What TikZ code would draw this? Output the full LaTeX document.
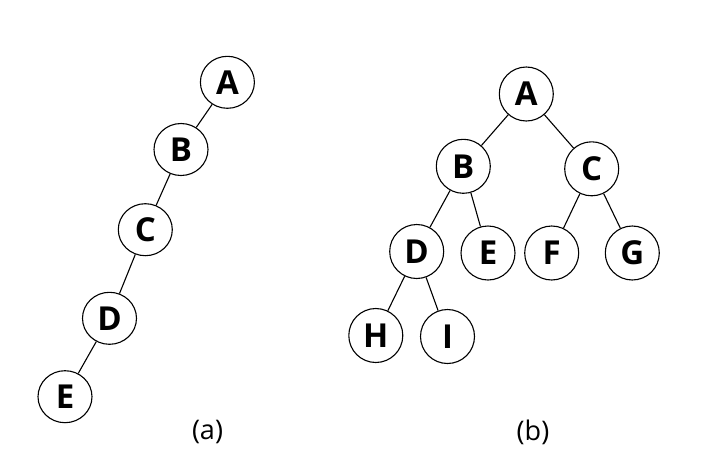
\documentclass[tikz,border=0pt]{standalone}
\usepackage{fontspec}
\setmainfont{Open Sans}
\usetikzlibrary{shapes.geometric}
\begin{document}
\begin{tikzpicture}[x=1pt,y=-1pt,
  tnode/.style={draw, line width=1.1pt, ellipse, minimum width=54pt, minimum height=52pt, inner sep=0pt, font=\fontsize{33}{33}\selectfont\bfseries},
  tedge/.style={line width=1.1pt},
  sublabel/.style={font=\fontsize{27}{27}\selectfont}]
\useasboundingbox (0,0) rectangle (702,464);
% (a)
\node[tnode] (a1) at (227.4,82.3) {A};
\node[tnode] (b1) at (181,149.5) {B};
\node[tnode] (c1) at (145.3,229.7) {C};
\node[tnode] (d1) at (109.5,318.3) {D};
\node[tnode] (e1) at (65,396.7) {E};
\draw[tedge] (a1) -- (b1);
\draw[tedge] (b1) -- (c1);
\draw[tedge] (c1) -- (d1);
\draw[tedge] (d1) -- (e1);
% (b)
\begin{scope}[tnode/.append style={minimum height=54pt}]
\node[tnode] (a2) at (526.3,94) {A};
\node[tnode] (b2) at (463.3,166.3) {B};
\node[tnode] (c2) at (591.7,168.8) {C};
\node[tnode] (d2) at (416.7,251.5) {D};
\node[tnode] (e2) at (488,253) {E};
\node[tnode] (f2) at (551.7,253) {F};
\node[tnode] (g2) at (632.3,253) {G};
\node[tnode] (h2) at (375.8,335.5) {H};
\node[tnode] (i2) at (447.5,336.5) {I};
\end{scope}
\draw[tedge] (a2) -- (b2);
\draw[tedge] (a2) -- (c2);
\draw[tedge] (b2) -- (d2);
\draw[tedge] (b2) -- (e2);
\draw[tedge] (c2) -- (f2);
\draw[tedge] (c2) -- (g2);
\draw[tedge] (d2) -- (h2);
\draw[tedge] (d2) -- (i2);
\node[sublabel] (la) at (207.5,432) {(a)};
\node[sublabel] (lb) at (533,432) {(b)};
\end{tikzpicture}
\end{document}
